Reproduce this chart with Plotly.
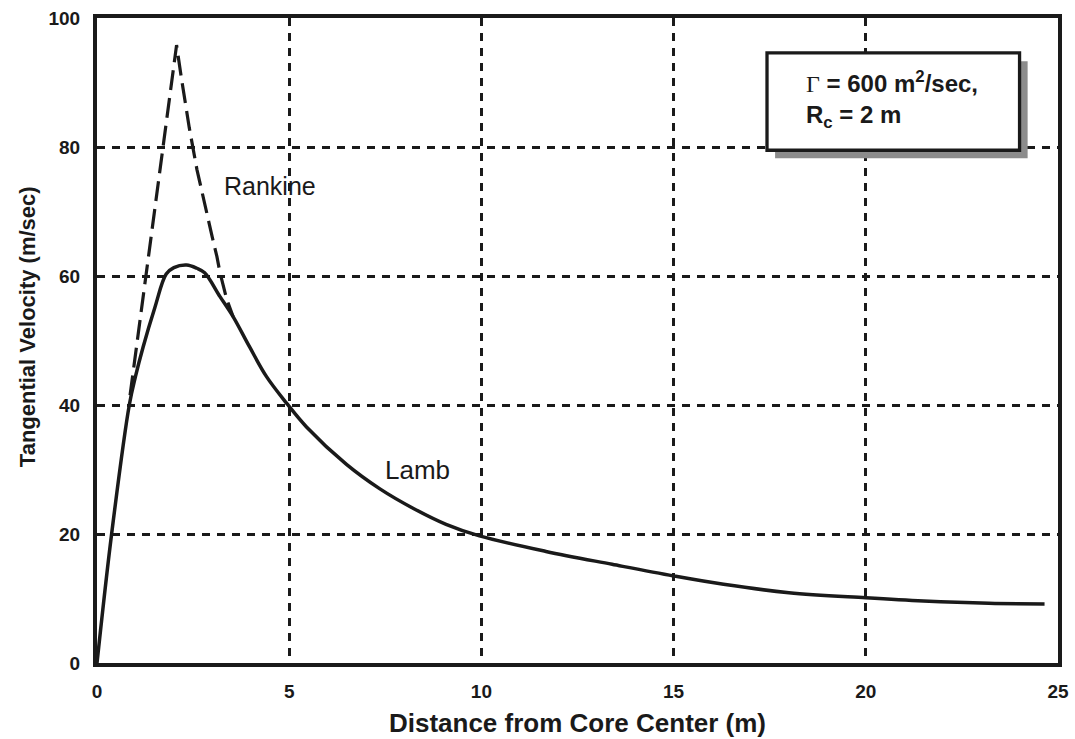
import plotly.graph_objects as go

# Lamb vortex (solid)
lamb_r = [0, 0.38, 0.84, 1.0, 1.2, 1.5, 1.8, 2.0, 2.33, 2.6, 2.8, 3.2, 3.54, 3.97,
          4.41, 4.93, 5.45, 6.49, 7.36, 8.22, 9.08, 9.95, 11.68, 13.4, 15.0, 16.3,
          18.0, 20.0, 21.5, 23.2, 24.65]
lamb_v = [0, 20, 40, 44.4, 49.0, 55.0, 60.3, 61.3, 61.7, 61.2, 60.5, 56.8, 53.7, 49.0,
          44.4, 40.3, 36.6, 30.8, 27.0, 24.0, 21.5, 19.7, 17.3, 15.3, 13.5, 12.2,
          10.9, 10.1, 9.6, 9.25, 9.15]

# Rankine vortex (dashed)
rank_r = [0.86, 2.07, 2.2, 2.4, 2.6, 2.8, 3.0, 3.12, 3.2, 3.37, 3.54]
rank_v = [41.5, 95.8, 90.5, 83.0, 76.5, 71.0, 66.0, 63.0, 60.5, 56.5, 53.7]

x_ticks = [0, 5, 10, 15, 20, 25]
y_ticks = [0, 20, 40, 60, 80, 100]

FONT = "Liberation Sans, Arial, Helvetica, sans-serif"
INK = "#1a1a1a"

fig = go.Figure()

# annotation box (shadow + box)
fig.add_shape(type="rect", xref="x", yref="y", x0=17.64, x1=24.21, y0=78.25, y1=93.3,
              fillcolor="#8c8c8c", line=dict(width=0), layer="above")
fig.add_shape(type="rect", xref="x", yref="y", x0=17.43, x1=24.0, y0=79.5, y1=94.6,
              fillcolor="white", line=dict(color=INK, width=3.3), layer="above")

fig.add_trace(go.Scatter(x=rank_r, y=rank_v, mode="lines",
                         line=dict(color=INK, width=3.2, dash="20px,8px"),
                         showlegend=False, hoverinfo="skip"))
fig.add_trace(go.Scatter(x=lamb_r, y=lamb_v, mode="lines",
                         line=dict(color=INK, width=3.5, shape="spline", smoothing=1.0),
                         showlegend=False, hoverinfo="skip"))

fig.add_annotation(x=18.4, y=87.3, xref="x", yref="y", xanchor="left", yanchor="middle",
                   text=("<span style=\"font-family:'Liberation Serif', 'Times New Roman', serif;"
                         "font-weight:normal\">Γ</span><b> = 600 m<sup>2</sup>/sec,"
                         "<br>R<sub>c</sub> = 2 m</b>"),
                   showarrow=False, align="left",
                   font=dict(family=FONT, size=24, color=INK))
fig.add_annotation(x=4.5, y=74.0, xref="x", yref="y", text="Rankine", showarrow=False,
                   font=dict(family=FONT, size=25, color=INK))
fig.add_annotation(x=8.35, y=30.0, xref="x", yref="y", text="Lamb", showarrow=False,
                   font=dict(family=FONT, size=26, color=INK))

# y-axis title placed as rotated annotation
fig.add_annotation(x=-0.073, y=0.522, xref="paper", yref="paper", textangle=-90,
                   xanchor="center", yanchor="middle", showarrow=False,
                   text="<b>Tangential Velocity (m/sec)</b>",
                   font=dict(family=FONT, size=22, color=INK))

axis_common = dict(showline=True, linecolor=INK, linewidth=4, mirror=True,
                   showgrid=True, gridcolor=INK, gridwidth=2.5, griddash="8px,7px",
                   zeroline=False, ticks="", automargin=False,
                   tickfont=dict(family=FONT, size=19, color=INK, weight="bold"))

fig.update_xaxes(range=[0, 25], tickvals=x_ticks, ticktext=[str(v) for v in x_ticks],
                 ticklabelstandoff=8,
                 title=dict(text="<b>Distance from Core Center (m)</b>", standoff=14,
                            font=dict(family=FONT, size=26, color=INK)),
                 **axis_common)
fig.update_yaxes(range=[0, 100], tickvals=y_ticks, ticktext=[str(v) for v in y_ticks],
                 ticklabelstandoff=9,
                 **axis_common)

fig.update_layout(width=1075, height=739, margin=dict(l=97, r=17, t=18, b=76),
                  plot_bgcolor="white", paper_bgcolor="white",
                  font=dict(family=FONT, color=INK))

fig.write_html("out.html")
